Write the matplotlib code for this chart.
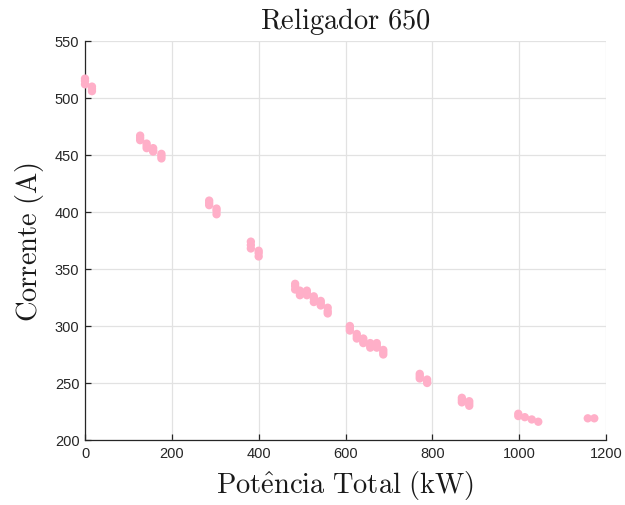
import matplotlib
matplotlib.use("Agg")
import matplotlib.pyplot as plt

# Data (each cluster has a few close readings)
potencia_kw = [0, 0, 0, 16, 16, 16,
               127, 127, 127, 142, 142, 142, 157, 157, 157, 176, 176, 176,
               286, 286, 286, 303, 303, 303, 382, 382, 382, 400, 400, 400,
               484, 484, 484, 495, 495, 495, 511, 511, 511, 527, 527, 527,
               543, 543, 543, 559, 559, 559,
               610, 610, 610, 626, 626, 626, 641, 641, 641, 657, 657, 657,
               672, 672, 672, 687, 687, 687,
               771, 771, 771, 788, 788, 788, 868, 868, 868, 885, 885, 885,
               998, 998, 1013, 1029, 1044, 1158, 1173]
corrente_a = [517, 515, 512, 510, 508, 506,
              467, 465, 463, 460, 458, 456, 456, 454, 453, 451, 449, 447,
              410, 408, 406, 403, 401, 398, 374, 371, 368, 366, 364, 361,
              337, 335, 332, 331, 329, 327, 331, 329, 327, 326, 324, 321,
              322, 320, 318, 316, 313, 311,
              300, 298, 296, 293, 291, 289, 289, 287, 285, 285, 283, 281,
              285, 283, 281, 279, 277, 275,
              258, 256, 254, 253, 251, 250, 237, 235, 233, 234, 232, 230,
              223, 221, 220, 218, 216, 219, 219]

x_ticks = [0, 200, 400, 600, 800, 1000, 1200]
y_ticks = [200, 250, 300, 350, 400, 450, 500, 550]

plt.rcParams['mathtext.fontset'] = 'cm'
plt.rcParams['font.family'] = ['Liberation Sans', 'DejaVu Sans']

fig = plt.figure(figsize=(6.25, 5.06), dpi=100)
ax = fig.add_axes([0.136, 0.1285, 0.8336, 0.7885])

ax.scatter(potencia_kw, corrente_a, s=36, color='#ffafc8', edgecolors='none',
           zorder=3, clip_on=False)

ax.set_xlim(0, 1200)
ax.set_ylim(200, 550)
ax.set_xticks(x_ticks)
ax.set_yticks(y_ticks)
ax.grid(True, color='#e2e2e2', linewidth=0.9)
ax.set_axisbelow(True)
for s in ['top', 'right']:
    ax.spines[s].set_visible(False)
for s in ['left', 'bottom']:
    ax.spines[s].set_color('#262626')
    ax.spines[s].set_linewidth(0.9)
    ax.spines[s].set_zorder(2)
ax.tick_params(direction='in', length=4, width=0.9, color='#262626',
               labelcolor='#262626', labelsize=10.5, pad=4)

ax.set_title(r'$\mathrm{Religador\ 650}$', fontsize=20.5, pad=9, color='#1a1a1a')
ax.set_xlabel(r'$\mathrm{Pot\^{e}ncia\ Total\ (kW)}$', fontsize=20.5, labelpad=7, color='#1a1a1a')
ax.set_ylabel(r'$\mathrm{Corrente\ (A)}$', fontsize=20.5, labelpad=6, color='#1a1a1a')

fig.savefig('out.png', dpi=100, facecolor='white')
